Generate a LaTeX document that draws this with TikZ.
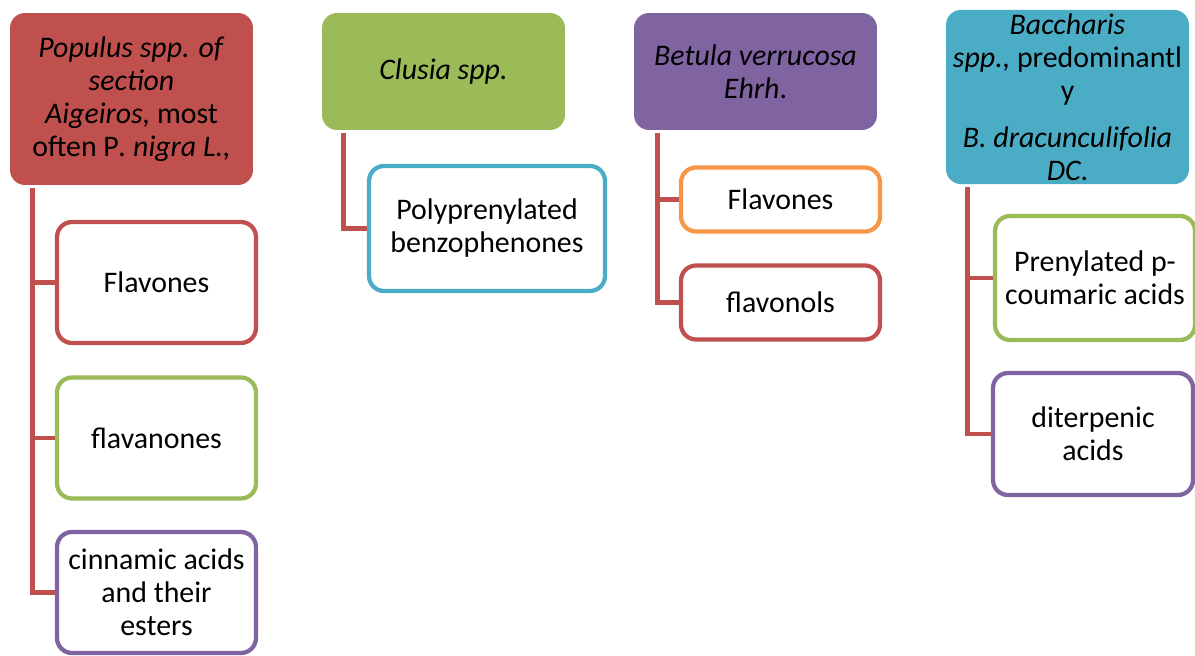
\documentclass[tikz,border=0pt]{standalone}
\usepackage{fontspec}
\setmainfont{Carlito}
\definecolor{boxred}{HTML}{C0504D}
\definecolor{boxgreen}{HTML}{9BBB59}
\definecolor{boxpurple}{HTML}{8064A2}
\definecolor{boxteal}{HTML}{4BACC6}
\definecolor{boxorange}{HTML}{F79646}
\tikzset{
  parent/.style={fill=#1, rounded corners=0.3cm, minimum width=4.86cm,
    align=center, inner sep=2pt},
  child/.style={draw=#1, line width=0.085cm, fill=white, rounded corners=0.3cm,
    minimum width=3.98cm, align=center, inner sep=2pt},
  link/.style={draw=boxred, line width=0.09cm},
}
\begin{document}
\begin{tikzpicture}[x=0.02cm,y=-0.02cm,
    font=\fontsize{17}{18.8}\selectfont]
  \useasboundingbox (0,0) rectangle (1195,655);

  % parents
  \node[parent=boxred, minimum height=3.44cm] (pop) at (131.5,99)
    {\textit{Populus spp. of}\\ \textit{section}\\ \textit{Aigeiros,} most\\ often P\textit{. nigra L.,}};
  \node[parent=boxgreen, minimum height=2.34cm] (clu) at (443.5,71.5)
    {\textit{Clusia spp.}};
  \node[parent=boxpurple, minimum height=2.34cm] (bet) at (755.5,71.5)
    {\textit{Betula verrucosa}\\ \textit{Ehrh}.};
  \node[parent=boxteal, minimum height=3.36cm] (bac) at (1067.5,97)
    {\textit{Baccharis}\\ \textit{spp.,} predominantl\\ y\\[8pt] \textit{B. dracunculifolia}\\ \textit{DC}.};

  % children
  \node[child=boxred, minimum height=2.42cm] (popa) at (156.5,282.5) {Flavones};
  \node[child=boxgreen, minimum height=2.42cm] (popb) at (156.5,438) {flavanones};
  \node[child=boxpurple, minimum height=2.42cm] (popc) at (156.5,592.5)
    {cinnamic acids\\ and their\\ esters};
  \node[child=boxteal, minimum width=4.72cm, minimum height=2.5cm] (clua) at (487,228.5)
    {Polyprenylated\\ benzophenones};
  \node[child=boxorange, minimum height=1.28cm] (beta) at (780.5,199.5) {Flavones};
  \node[child=boxred, minimum height=1.48cm] (betb) at (780.5,302.5) {flavonols};
  \node[child=boxgreen, minimum width=4.0cm, minimum height=2.48cm] (baca) at (1095,278)
    {Prenylated p-\\ coumaric acids};
  \node[child=boxpurple, minimum width=4.0cm, minimum height=2.44cm] (bacb) at (1093,434)
    {diterpenic\\ acids};

  % connectors
  \coordinate (popt) at ([xshift=0.46cm,yshift=-0.06cm]pop.south west);
  \coordinate (clut) at ([xshift=0.44cm,yshift=-0.06cm]clu.south west);
  \coordinate (bett) at ([xshift=0.48cm,yshift=-0.06cm]bet.south west);
  \coordinate (bact) at ([xshift=0.44cm,yshift=-0.06cm]bac.south west);
  \draw[link] (popt) |- (popc.west);
  \draw[link] (popa.west) -- (popa.west -| popt);
  \draw[link] (popb.west) -- (popb.west -| popt);
  \draw[link] (clut) |- (clua.west);
  \draw[link] (bett) |- (betb.west);
  \draw[link] (beta.west) -- (beta.west -| bett);
  \draw[link] (bact) |- (bacb.west);
  \draw[link] (baca.west) -- (baca.west -| bact);
\end{tikzpicture}
\end{document}
